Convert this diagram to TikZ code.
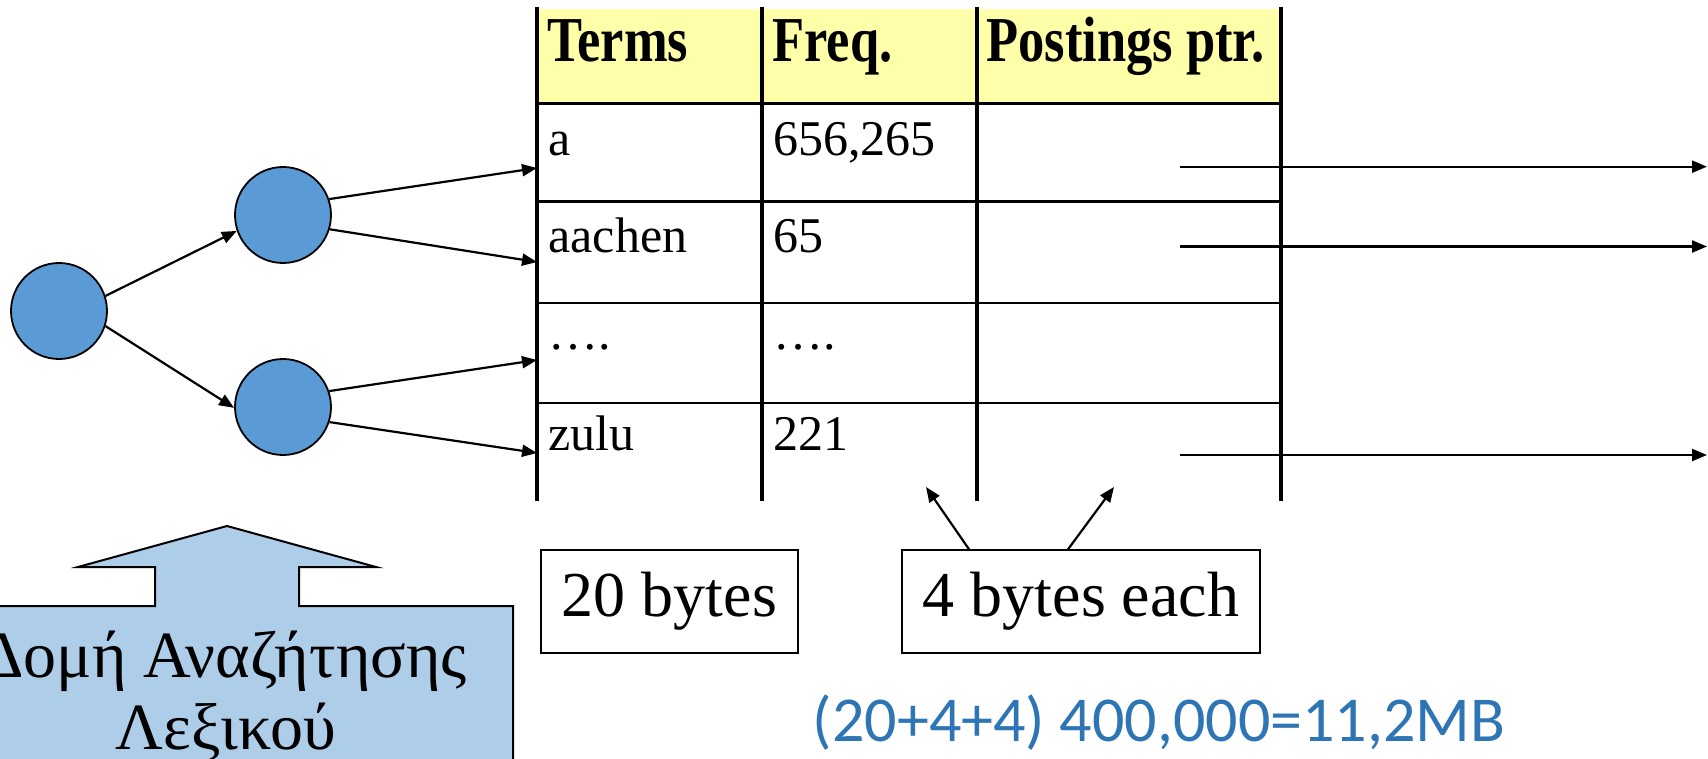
\documentclass[tikz,border=0pt]{standalone}
\usepackage{fontspec}
\setmainfont{Liberation Serif}
\newfontfamily\calibfont{Carlito}
\usetikzlibrary{arrows.meta}
\definecolor{nodeblue}{RGB}{91,155,213}
\definecolor{lightblue}{RGB}{174,205,233}
\definecolor{hdryellow}{RGB}{255,255,170}
\definecolor{txtblue}{RGB}{46,117,182}
\newcommand\hdrtext[1]{\scalebox{0.82}[1]{\fontsize{32}{36}\selectfont\bfseries #1}}
\begin{document}
\begin{tikzpicture}[x=0.5pt,y=-0.5pt,
  tip/.style={-{Triangle[length=7.5pt,width=6pt]}, line width=1.1pt},
  circ/.style={circle, draw, line width=0.9pt, fill=nodeblue, minimum size=48pt, inner sep=0pt},
  cell/.style={anchor=base west, inner sep=0pt, font=\fontsize{25}{30}\selectfont},
  hdr/.style={anchor=base west, inner sep=0pt},
  sizebox/.style={draw, line width=1pt, minimum height=51.5pt, inner sep=0pt, font=\fontsize{32}{36}\selectfont},
  grk/.style={anchor=base, inner sep=0pt, font=\fontsize{33}{36}\selectfont},
  vline/.style={line width=1.6pt},
  hline/.style={line width=1.2pt}
]
\clip (0,0) rectangle (1708,759);
% header band
\fill[hdryellow] (537,9) rectangle (1281,103.5);
% horizontal rules
\foreach \y in {103.5,201.5,303,403} \draw[hline] (537,\y) -- (1281,\y);
% vertical rules
\foreach \x in {537,762,977,1281} \draw[vline] (\x,7) -- (\x,501);
% header texts
\node[hdr] (hterms) at (547,62) {\hdrtext{Terms}};
\node[hdr] (hfreq) at (772,62) {\hdrtext{Freq.}};
\node[hdr] (hpost) at (986,62) {\hdrtext{Postings ptr.}};
% cells
\node[cell] (t1) at (548,156) {a};
\node[cell] (f1) at (773,156) {656,265};
\node[cell] (t2) at (548,253) {aachen};
\node[cell] (f2) at (773,253) {65};
\node[cell] (t3) at (548,350) {….};
\node[cell] (f3) at (773,350) {….};
\node[cell] (t4) at (548,450) {zulu};
\node[cell] (f4) at (773,450) {221};
% entry points on the table's left border
\coordinate (e1) at (537,168);
\coordinate (e2) at (537,262);
\coordinate (e3) at (537,360);
\coordinate (e4) at (537,453);
% tree
\node[circ] (root) at (59,311) {};
\node[circ] (up) at (283,215) {};
\node[circ] (low) at (283,407) {};
\draw[tip] (root.18) -- (up.199);
\draw[tip] (root.-18) -- (low.181);
\draw[tip] (up.19) -- (e1);
\draw[tip] (up.-17) -- (e2);
\draw[tip] (low.19) -- (e3);
\draw[tip] (low.-18) -- (e4);
% postings pointers
\coordinate (p1) at (1180,166.7); \coordinate (q1) at (1707,166.7);
\coordinate (p2) at (1180,246.5); \coordinate (q2) at (1707,246.5);
\coordinate (p4) at (1180,455);   \coordinate (q4) at (1707,455);
\draw[tip] (p1) -- (q1);
\draw[tip] (p2) -- (q2);
\draw[tip] (p4) -- (q4);
% size boxes
\node[sizebox, minimum width=128.5pt] (b20) at (669.5,601.5) {20 bytes};
\node[sizebox, minimum width=179pt] (b4) at (1081,601.5) {4 bytes each};
\coordinate (s1) at (969.5,550); \coordinate (a1) at (926,487);
\coordinate (s2) at (1067.5,550); \coordinate (a2) at (1114,487);
\draw[tip] (s1) -- (a1);
\draw[tip] (s2) -- (a2);
% total
\node[anchor=base, inner sep=0pt, text=txtblue, font=\calibfont\fontsize{32}{36}\selectfont] (total) at (1159,741) {(20+4+4) 400,000=11,2MB};
% block arrow callout
\draw[fill=lightblue, line width=1pt] (-62,800) -- (-62,606) -- (155,606) -- (155,567) -- (78,567) -- (227,526) -- (376,567) -- (299,567) -- (299,606) -- (513,606) -- (513,800) -- cycle;
\node[grk] (g1) at (224,677) {Δομή Αναζήτησης};
\node[grk] (g2) at (226,749) {Λεξικού};
\end{tikzpicture}
\end{document}
